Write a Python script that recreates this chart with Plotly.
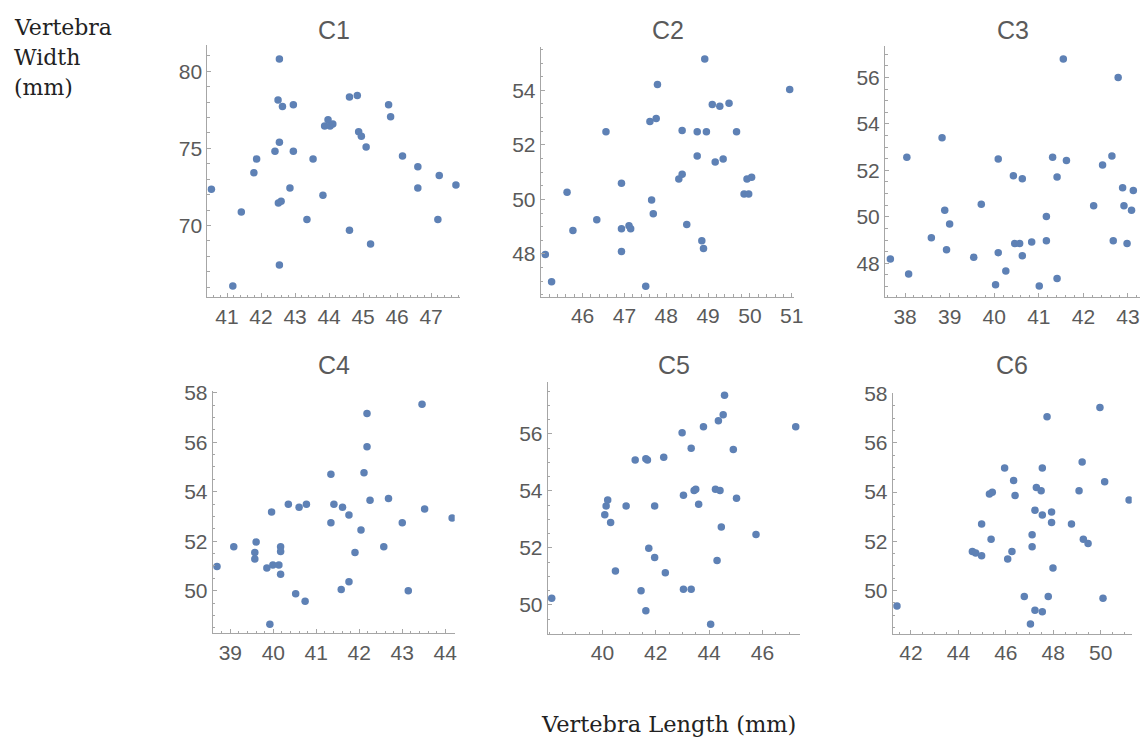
import plotly.graph_objects as go

W, H = 1141, 738

# ---------------- data (vertebra length, width in mm) ----------------
titles = ["C1", "C2", "C3", "C4", "C5", "C6"]

c1_length = [40.54, 41.17, 41.42, 41.79, 41.87, 42.41, 42.54, 42.50, 42.63, 42.54,
             42.51, 42.59, 42.54, 42.95, 42.95, 42.85, 43.35, 43.53, 43.82, 43.87,
             43.97, 44.03, 44.11, 44.60, 44.83, 44.60, 44.87, 44.95, 45.09, 45.22,
             45.75, 45.81, 46.16, 46.61, 46.61, 47.20, 47.24, 47.73]
c1_width = [72.34, 66.08, 70.87, 73.42, 74.31, 74.81, 80.79, 78.13, 77.72, 75.39,
            71.46, 71.57, 67.44, 77.83, 74.81, 72.43, 70.38, 74.31, 71.95, 76.45,
            76.86, 76.45, 76.58, 78.33, 78.43, 69.69, 76.08, 75.78, 75.09, 68.80,
            77.83, 77.05, 74.50, 73.81, 72.43, 70.38, 73.23, 72.62]

c2_length = [45.11, 45.26, 45.63, 45.77, 46.34, 46.56, 46.93, 46.93, 46.93, 47.11,
             47.15, 47.51, 47.61, 47.65, 47.69, 47.76, 47.79, 48.30, 48.38, 48.38,
             48.49, 48.74, 48.74, 48.85, 48.89, 48.92, 48.96, 49.10, 49.17, 49.28,
             49.36, 49.50, 49.68, 49.86, 49.97, 49.93, 50.04, 50.95]
c2_width = [47.98, 46.98, 50.26, 48.86, 49.25, 52.48, 50.59, 48.92, 48.09, 49.03,
            48.92, 46.81, 52.86, 49.98, 49.47, 52.97, 54.21, 50.75, 50.92, 52.53,
            49.08, 51.59, 52.48, 48.48, 48.20, 55.15, 52.48, 53.48, 51.37, 53.42,
            51.48, 53.53, 52.48, 50.20, 50.20, 50.75, 50.81, 54.03]

c3_length = [37.67, 38.04, 38.08, 38.59, 38.83, 38.89, 38.93, 39.00, 39.54, 39.71,
             40.03, 40.09, 40.09, 40.26, 40.43, 40.46, 40.57, 40.63, 40.63, 40.84,
             41.01, 41.17, 41.17, 41.31, 41.41, 41.41, 41.55, 41.62, 42.23, 42.43,
             42.64, 42.67, 42.78, 42.88, 42.91, 42.98, 43.08, 43.12]
c3_width = [48.19, 52.56, 47.54, 49.10, 53.40, 50.28, 48.59, 49.69, 48.26, 50.54,
            47.08, 52.49, 48.46, 47.67, 51.77, 48.85, 48.85, 51.64, 48.33, 48.92,
            47.03, 50.02, 48.97, 52.56, 51.71, 47.35, 56.79, 52.43, 50.48, 52.23,
            52.62, 48.97, 56.00, 51.25, 50.48, 48.85, 50.28, 51.13]

c4_length = [38.69, 39.08, 39.57, 39.57, 39.60, 39.85, 39.92, 39.96, 39.99, 40.13,
             40.17, 40.17, 40.17, 40.35, 40.52, 40.60, 40.74, 40.77, 41.34, 41.34,
             41.41, 41.58, 41.61, 41.76, 41.76, 41.90, 42.04, 42.11, 42.18, 42.18,
             42.25, 42.57, 42.68, 43.00, 43.14, 43.46, 43.52, 44.16]
c4_width = [50.98, 51.78, 51.54, 51.28, 51.97, 50.92, 48.65, 53.18, 51.04, 51.04,
            51.78, 51.59, 50.67, 53.49, 49.88, 53.37, 49.57, 53.49, 54.71, 52.75,
            53.49, 50.05, 53.37, 50.36, 53.06, 51.54, 52.45, 54.77, 55.82, 57.16,
            53.66, 51.78, 53.73, 52.75, 50.00, 57.53, 53.30, 52.94]

c5_length = [38.10, 40.09, 40.14, 40.20, 40.31, 40.49, 40.89, 41.23, 41.45, 41.63,
             41.69, 41.63, 41.74, 41.96, 41.96, 42.30, 42.36, 42.99, 43.04, 43.04,
             43.33, 43.33, 43.44, 43.50, 43.61, 43.79, 44.06, 44.24, 44.30, 44.35,
             44.41, 44.46, 44.53, 44.58, 44.91, 45.03, 45.76, 47.25]
c5_width = [50.23, 53.16, 53.47, 53.68, 52.89, 51.19, 53.47, 55.08, 50.50, 55.13,
            55.08, 49.80, 51.99, 53.47, 51.66, 55.18, 51.13, 56.04, 53.85, 50.55,
            55.50, 50.55, 54.01, 54.06, 53.53, 56.25, 49.32, 54.06, 51.56, 56.46,
            54.01, 52.73, 56.67, 57.36, 55.45, 53.74, 52.47, 56.25]

c6_length = [41.41, 44.59, 44.73, 44.98, 44.98, 45.31, 45.43, 45.38, 45.95, 46.08,
             46.26, 46.33, 46.39, 46.78, 47.04, 47.11, 47.11, 47.23, 47.23, 47.29,
             47.49, 47.54, 47.54, 47.54, 47.74, 47.79, 47.93, 47.93, 47.99, 48.77,
             49.09, 49.22, 49.27, 49.47, 49.97, 50.10, 50.17, 51.20]
c6_width = [49.38, 51.59, 51.53, 51.41, 52.70, 53.92, 53.99, 52.08, 54.97, 51.28,
            51.59, 54.47, 53.86, 49.76, 48.65, 52.27, 51.78, 53.26, 49.20, 54.18,
            54.05, 54.97, 53.07, 49.14, 57.05, 49.76, 53.19, 52.76, 50.92, 52.70,
            54.05, 55.22, 52.08, 51.91, 57.43, 49.69, 54.42, 53.68]

# tick labels
c1_xticks = [41, 42, 43, 44, 45, 46, 47]
c1_yticks = [70, 75, 80]
c2_xticks = [46, 47, 48, 49, 50, 51]
c2_yticks = [48, 50, 52, 54]
c3_xticks = [38, 39, 40, 41, 42, 43]
c3_yticks = [48, 50, 52, 54, 56]
c4_xticks = [39, 40, 41, 42, 43, 44]
c4_yticks = [50, 52, 54, 56, 58]
c5_xticks = [40, 42, 44, 46]
c5_yticks = [50, 52, 54, 56]
c6_xticks = [42, 44, 46, 48, 50]
c6_yticks = [50, 52, 54, 56, 58]

x_label = "Vertebra Length (mm)"
y_label_lines = ["Vertebra", "Width", "(mm)"]

lengths = [c1_length, c2_length, c3_length, c4_length, c5_length, c6_length]
widths = [c1_width, c2_width, c3_width, c4_width, c5_width, c6_width]
xticks = [c1_xticks, c2_xticks, c3_xticks, c4_xticks, c5_xticks, c6_xticks]
yticks = [c1_yticks, c2_yticks, c3_yticks, c4_yticks, c5_yticks, c6_yticks]

# ---------------- layout (pixel geometry) ----------------
geom = [
    dict(px=(207.3, 460.0), py=(45.0, 297.3), xr=(40.42, 47.85), yr=(65.34, 81.7), xm=0.2, ym=1.0),
    dict(px=(540.7, 794.3), py=(46.7, 296.7), xr=(45.00, 51.06), yr=(46.43, 55.6), xm=0.2, ym=0.5),
    dict(px=(885.0, 1140.0), py=(46.0, 297.3), xr=(37.55, 43.27), yr=(46.54, 57.35), xm=0.2, ym=0.5),
    dict(px=(212.7, 454.7), py=(391.0, 633.3), xr=(38.59, 44.22), yr=(48.28, 58.07), xm=0.2, ym=0.5),
    dict(px=(547.7, 800.0), py=(382.3, 634.0), xr=(37.95, 47.41), yr=(48.98, 57.81), xm=0.5, ym=0.5),
    dict(px=(892.7, 1131.7), py=(392.7, 634.0), xr=(41.23, 51.31), yr=(48.24, 58.03), xm=0.5, ym=0.5),
]

def fx(p):
    return p / W

def fy(p):
    return 1 - p / H

LABEL_COLOR = "#5a5a5a"
AXIS_COLOR = "#a6a6a6"
DOT_COLOR = "#5e81b5"
SANS = "Liberation Sans, Arial, sans-serif"
SERIF = "DejaVu Serif, serif"

fig = go.Figure()
layout = dict(
    width=W, height=H,
    margin=dict(l=0, r=0, t=0, b=0, autoexpand=False),
    paper_bgcolor="white", plot_bgcolor="white",
    showlegend=False,
)
annotations = []

for i, g in enumerate(geom):
    n = "" if i == 0 else str(i + 1)
    fig.add_trace(go.Scatter(
        x=lengths[i], y=widths[i], mode="markers",
        marker=dict(color=DOT_COLOR, size=7.5, line=dict(width=0)),
        xaxis="x" + n, yaxis="y" + n, hoverinfo="x+y",
    ))
    common = dict(
        showline=True, linecolor=AXIS_COLOR, linewidth=1,
        showgrid=False, zeroline=False, automargin=False,
        ticks="inside", ticklen=4, tickwidth=1, tickcolor=AXIS_COLOR,
        tickfont=dict(family=SANS, size=21, color=LABEL_COLOR),
        tickmode="array", fixedrange=True,
    )
    layout["xaxis" + n] = dict(
        common,
        domain=[fx(g["px"][0]), fx(g["px"][1])],
        range=list(g["xr"]), anchor="y" + n,
        tickvals=xticks[i],
        minor=dict(dtick=g["xm"], tick0=0, ticks="inside", ticklen=2.5,
                   tickcolor=AXIS_COLOR, tickwidth=1, showgrid=False),
    )
    layout["yaxis" + n] = dict(
        common,
        domain=[fy(g["py"][1]), fy(g["py"][0])],
        range=list(g["yr"]), anchor="x" + n,
        tickvals=yticks[i],
        minor=dict(dtick=g["ym"], tick0=0, ticks="inside", ticklen=2.5,
                   tickcolor=AXIS_COLOR, tickwidth=1, showgrid=False),
    )
    cx = (g["px"][0] + g["px"][1]) / 2
    ty = 30 if i < 3 else 365
    annotations.append(dict(
        text=titles[i], x=fx(cx), y=fy(ty), xref="paper", yref="paper",
        xanchor="center", yanchor="middle", showarrow=False,
        font=dict(family=SANS, size=25, color=LABEL_COLOR),
    ))

for k, line in enumerate(y_label_lines):
    annotations.append(dict(
        text=line, x=fx(12), y=fy(28 + 30 * k), xref="paper", yref="paper",
        xanchor="left", yanchor="middle", showarrow=False,
        font=dict(family=SERIF, size=22, color="#222222"),
    ))

annotations.append(dict(
    text=x_label, x=fx(668), y=fy(724), xref="paper", yref="paper",
    xanchor="center", yanchor="middle", showarrow=False,
    font=dict(family=SERIF, size=22.5, color="#222222"),
))

layout["annotations"] = annotations
fig.update_layout(**layout)
fig.write_html(
    "out.html",
    config={"displayModeBar": False},
    post_script="document.body.style.margin='0px';"
                "document.documentElement.style.overflow='hidden';"
                "document.body.style.overflow='hidden';",
)
